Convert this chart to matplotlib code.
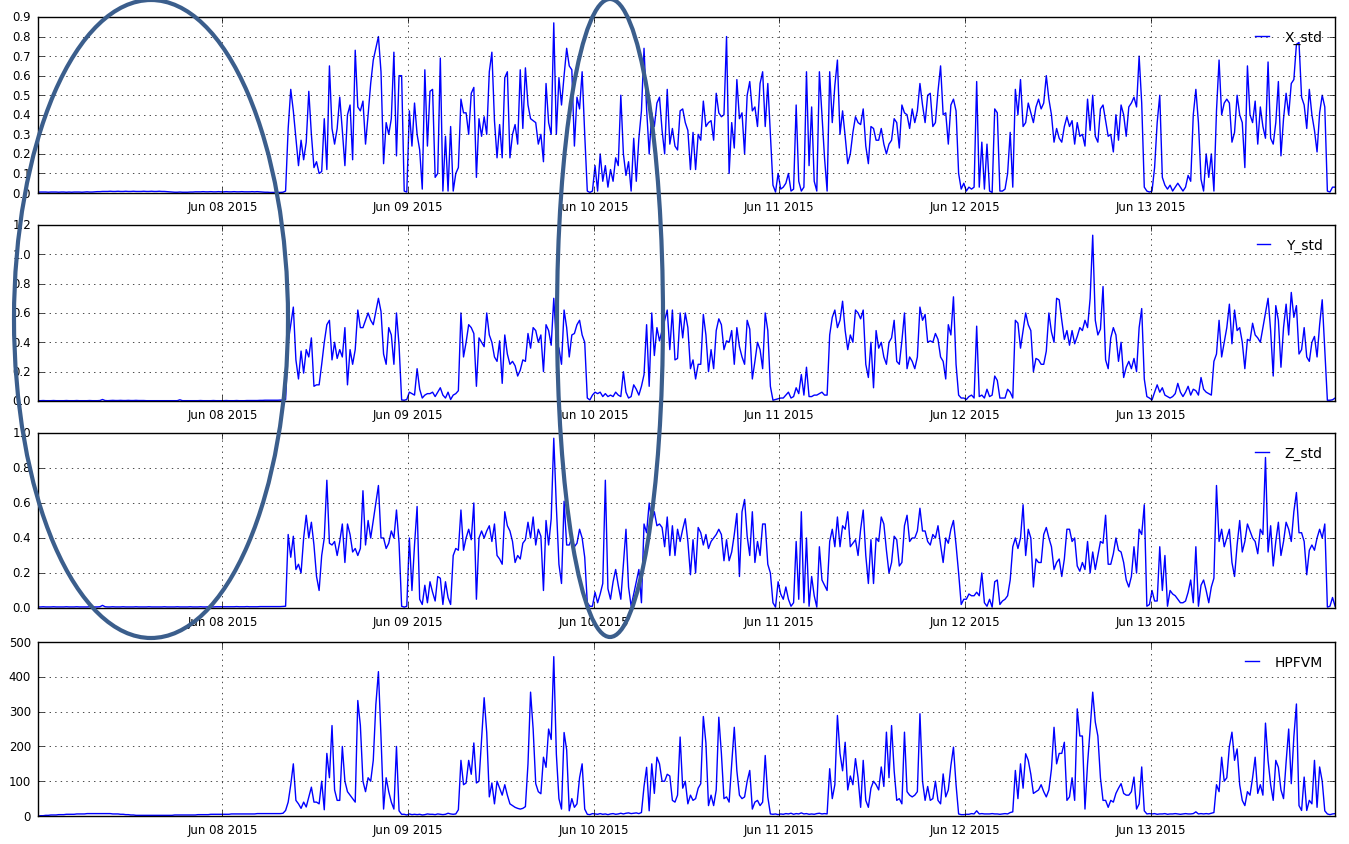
import numpy as np
import pandas as pd
import matplotlib
matplotlib.use("Agg")
import matplotlib.pyplot as plt
import matplotlib.dates as mdates
from matplotlib.patches import Ellipse

# readings every 20 minutes starting just after Jun 07 2015 00:00 (one line = 4 hours)
start = "2015-06-07 00:10"
step = "20min"

x_std = [
    0.004, 0.005, 0.005, 0.005, 0.004, 0.005, 0.005, 0.005, 0.004, 0.005, 0.005, 0.004,
    0.005, 0.004, 0.005, 0.005, 0.005, 0.004, 0.005, 0.006, 0.005, 0.005, 0.006, 0.007,
    0.007, 0.008, 0.008, 0.008, 0.009, 0.008, 0.008, 0.009, 0.008, 0.008, 0.009, 0.008,
    0.008, 0.009, 0.008, 0.008, 0.008, 0.009, 0.008, 0.008, 0.009, 0.008, 0.008, 0.009,
    0.008, 0.008, 0.007, 0.006, 0.005, 0.004, 0.004, 0.005, 0.004, 0.004, 0.004, 0.005,
    0.005, 0.006, 0.006, 0.006, 0.007, 0.006, 0.006, 0.007, 0.006, 0.006, 0.007, 0.006,
    0.006, 0.007, 0.006, 0.006, 0.007, 0.006, 0.006, 0.007, 0.006, 0.006, 0.006, 0.007,
    0.006, 0.007, 0.006, 0.005, 0.004, 0.004, 0.003, 0.003, 0.003, 0.003, 0.003, 0.004,
    0.01, 0.33, 0.53, 0.42, 0.28, 0.14, 0.27, 0.17, 0.26, 0.52, 0.30, 0.13,
    0.16, 0.10, 0.11, 0.38, 0.12, 0.65, 0.33, 0.25, 0.33, 0.49, 0.32, 0.14,
    0.40, 0.45, 0.17, 0.73, 0.44, 0.42, 0.47, 0.25, 0.40, 0.56, 0.68, 0.74,
    0.80, 0.62, 0.15, 0.36, 0.30, 0.38, 0.72, 0.19, 0.60, 0.60, 0.01, 0.005,
    0.42, 0.24, 0.46, 0.30, 0.22, 0.02, 0.63, 0.24, 0.52, 0.53, 0.08, 0.10,
    0.69, 0.01, 0.29, 0.01, 0.34, 0.01, 0.10, 0.13, 0.48, 0.41, 0.41, 0.30,
    0.51, 0.54, 0.08, 0.38, 0.29, 0.39, 0.30, 0.62, 0.72, 0.37, 0.18, 0.35,
    0.18, 0.59, 0.62, 0.18, 0.30, 0.35, 0.25, 0.63, 0.33, 0.64, 0.45, 0.38,
    0.37, 0.36, 0.25, 0.30, 0.16, 0.56, 0.36, 0.30, 0.87, 0.30, 0.59, 0.45,
    0.60, 0.74, 0.65, 0.63, 0.24, 0.49, 0.43, 0.62, 0.30, 0.01, 0.003, 0.01,
    0.14, 0.01, 0.20, 0.06, 0.14, 0.03, 0.12, 0.06, 0.18, 0.14, 0.50, 0.20,
    0.09, 0.16, 0.01, 0.28, 0.06, 0.28, 0.42, 0.74, 0.43, 0.20, 0.41, 0.34,
    0.46, 0.49, 0.32, 0.20, 0.53, 0.25, 0.33, 0.24, 0.22, 0.42, 0.43, 0.36,
    0.32, 0.12, 0.31, 0.12, 0.30, 0.27, 0.47, 0.34, 0.36, 0.37, 0.27, 0.51,
    0.41, 0.39, 0.40, 0.80, 0.10, 0.36, 0.23, 0.58, 0.38, 0.41, 0.20, 0.50,
    0.57, 0.42, 0.44, 0.34, 0.56, 0.62, 0.34, 0.56, 0.30, 0.04, 0.005, 0.10,
    0.02, 0.03, 0.05, 0.10, 0.01, 0.02, 0.45, 0.06, 0.01, 0.03, 0.62, 0.14,
    0.44, 0.06, 0.01, 0.62, 0.40, 0.18, 0.01, 0.62, 0.36, 0.55, 0.68, 0.30,
    0.42, 0.29, 0.15, 0.20, 0.31, 0.39, 0.36, 0.35, 0.43, 0.24, 0.15, 0.34,
    0.33, 0.27, 0.27, 0.33, 0.25, 0.20, 0.25, 0.27, 0.38, 0.36, 0.23, 0.45,
    0.41, 0.40, 0.33, 0.43, 0.36, 0.42, 0.56, 0.45, 0.36, 0.50, 0.51, 0.34,
    0.36, 0.52, 0.65, 0.40, 0.41, 0.25, 0.45, 0.48, 0.42, 0.10, 0.02, 0.05,
    0.01, 0.03, 0.02, 0.03, 0.57, 0.03, 0.26, 0.02, 0.25, 0.01, 0.003, 0.43,
    0.41, 0.01, 0.01, 0.02, 0.10, 0.31, 0.03, 0.53, 0.40, 0.58, 0.34, 0.36,
    0.46, 0.41, 0.36, 0.44, 0.48, 0.43, 0.46, 0.60, 0.48, 0.40, 0.26, 0.33,
    0.28, 0.26, 0.34, 0.39, 0.34, 0.37, 0.25, 0.36, 0.29, 0.30, 0.24, 0.48,
    0.32, 0.50, 0.29, 0.26, 0.43, 0.45, 0.37, 0.29, 0.30, 0.21, 0.40, 0.27,
    0.45, 0.40, 0.29, 0.44, 0.46, 0.49, 0.44, 0.70, 0.46, 0.03, 0.01, 0.005,
    0.01, 0.13, 0.36, 0.50, 0.08, 0.04, 0.02, 0.04, 0.01, 0.03, 0.05, 0.03,
    0.01, 0.03, 0.09, 0.06, 0.40, 0.53, 0.36, 0.07, 0.01, 0.20, 0.08, 0.20,
    0.01, 0.42, 0.68, 0.40, 0.46, 0.48, 0.46, 0.26, 0.31, 0.50, 0.40, 0.36,
    0.13, 0.65, 0.40, 0.36, 0.47, 0.25, 0.44, 0.34, 0.28, 0.67, 0.28, 0.25,
    0.36, 0.57, 0.19, 0.38, 0.51, 0.40, 0.56, 0.58, 0.76, 0.77, 0.49, 0.45,
    0.33, 0.53, 0.40, 0.32, 0.21, 0.41, 0.50, 0.44, 0.01, 0.005, 0.03, 0.03,
]

y_std = [
    0.002, 0.002, 0.003, 0.002, 0.002, 0.002, 0.003, 0.002, 0.002, 0.002, 0.002, 0.003,
    0.002, 0.002, 0.002, 0.003, 0.002, 0.002, 0.002, 0.002, 0.003, 0.002, 0.002, 0.002,
    0.003, 0.010, 0.003, 0.002, 0.003, 0.004, 0.003, 0.003, 0.004, 0.003, 0.003, 0.004,
    0.003, 0.003, 0.004, 0.003, 0.003, 0.003, 0.002, 0.002, 0.002, 0.002, 0.002, 0.002,
    0.002, 0.002, 0.002, 0.002, 0.002, 0.002, 0.002, 0.008, 0.002, 0.002, 0.002, 0.002,
    0.002, 0.002, 0.002, 0.003, 0.002, 0.002, 0.002, 0.002, 0.003, 0.002, 0.002, 0.002,
    0.002, 0.003, 0.002, 0.002, 0.002, 0.003, 0.002, 0.002, 0.002, 0.003, 0.003, 0.003,
    0.003, 0.003, 0.004, 0.004, 0.005, 0.005, 0.005, 0.005, 0.005, 0.005, 0.006, 0.005,
    0.01, 0.40, 0.52, 0.64, 0.28, 0.15, 0.34, 0.19, 0.35, 0.30, 0.43, 0.10,
    0.11, 0.11, 0.25, 0.40, 0.52, 0.55, 0.28, 0.40, 0.29, 0.35, 0.30, 0.50,
    0.11, 0.35, 0.25, 0.35, 0.62, 0.50, 0.50, 0.55, 0.60, 0.55, 0.52, 0.61,
    0.70, 0.61, 0.32, 0.25, 0.50, 0.45, 0.25, 0.60, 0.38, 0.007, 0.005, 0.01,
    0.06, 0.05, 0.04, 0.22, 0.08, 0.02, 0.04, 0.05, 0.05, 0.06, 0.03, 0.06,
    0.09, 0.04, 0.02, 0.06, 0.01, 0.04, 0.05, 0.07, 0.60, 0.30, 0.40, 0.52,
    0.50, 0.46, 0.10, 0.43, 0.40, 0.37, 0.60, 0.45, 0.40, 0.30, 0.27, 0.41,
    0.12, 0.45, 0.32, 0.25, 0.27, 0.24, 0.17, 0.21, 0.28, 0.27, 0.46, 0.36,
    0.50, 0.48, 0.40, 0.45, 0.20, 0.52, 0.48, 0.38, 0.70, 0.40, 0.36, 0.25,
    0.62, 0.50, 0.30, 0.45, 0.46, 0.52, 0.55, 0.45, 0.40, 0.02, 0.007, 0.04,
    0.06, 0.05, 0.06, 0.03, 0.05, 0.03, 0.04, 0.03, 0.06, 0.04, 0.03, 0.20,
    0.06, 0.02, 0.03, 0.11, 0.08, 0.04, 0.10, 0.18, 0.52, 0.10, 0.60, 0.31,
    0.50, 0.41, 0.48, 0.55, 0.62, 0.35, 0.62, 0.28, 0.29, 0.60, 0.43, 0.60,
    0.50, 0.22, 0.28, 0.15, 0.25, 0.25, 0.59, 0.45, 0.20, 0.35, 0.22, 0.48,
    0.56, 0.52, 0.35, 0.41, 0.40, 0.48, 0.25, 0.50, 0.37, 0.30, 0.25, 0.55,
    0.49, 0.15, 0.27, 0.40, 0.35, 0.22, 0.60, 0.48, 0.10, 0.005, 0.01, 0.015,
    0.02, 0.02, 0.04, 0.06, 0.02, 0.03, 0.09, 0.05, 0.18, 0.04, 0.23, 0.03,
    0.03, 0.04, 0.04, 0.05, 0.06, 0.04, 0.04, 0.45, 0.57, 0.62, 0.50, 0.55,
    0.68, 0.48, 0.35, 0.45, 0.40, 0.62, 0.60, 0.56, 0.62, 0.25, 0.16, 0.40,
    0.09, 0.48, 0.36, 0.40, 0.30, 0.25, 0.40, 0.43, 0.55, 0.27, 0.25, 0.41,
    0.60, 0.22, 0.30, 0.27, 0.22, 0.30, 0.64, 0.55, 0.59, 0.40, 0.41, 0.40,
    0.46, 0.42, 0.30, 0.27, 0.15, 0.52, 0.45, 0.71, 0.25, 0.04, 0.02, 0.02,
    0.01, 0.03, 0.04, 0.02, 0.51, 0.03, 0.04, 0.02, 0.08, 0.03, 0.04, 0.17,
    0.14, 0.02, 0.02, 0.02, 0.08, 0.06, 0.02, 0.55, 0.53, 0.36, 0.48, 0.60,
    0.52, 0.48, 0.20, 0.29, 0.28, 0.25, 0.25, 0.34, 0.60, 0.47, 0.40, 0.70,
    0.69, 0.55, 0.42, 0.48, 0.38, 0.48, 0.39, 0.44, 0.50, 0.48, 0.55, 0.50,
    0.70, 1.13, 0.55, 0.45, 0.49, 0.78, 0.28, 0.22, 0.43, 0.50, 0.45, 0.27,
    0.40, 0.16, 0.23, 0.27, 0.22, 0.29, 0.20, 0.50, 0.63, 0.15, 0.03, 0.02,
    0.007, 0.06, 0.11, 0.06, 0.09, 0.04, 0.03, 0.02, 0.03, 0.05, 0.12, 0.06,
    0.03, 0.06, 0.10, 0.04, 0.08, 0.07, 0.04, 0.16, 0.08, 0.06, 0.05, 0.04,
    0.27, 0.32, 0.55, 0.30, 0.40, 0.50, 0.66, 0.39, 0.62, 0.48, 0.50, 0.40,
    0.22, 0.42, 0.41, 0.53, 0.45, 0.43, 0.40, 0.50, 0.60, 0.70, 0.48, 0.17,
    0.65, 0.55, 0.23, 0.50, 0.66, 0.45, 0.74, 0.57, 0.65, 0.32, 0.35, 0.50,
    0.30, 0.27, 0.40, 0.44, 0.30, 0.52, 0.69, 0.35, 0.005, 0.005, 0.008, 0.02,
]

z_std = [
    0.006, 0.006, 0.007, 0.006, 0.006, 0.006, 0.007, 0.006, 0.006, 0.006, 0.006, 0.007,
    0.006, 0.006, 0.006, 0.007, 0.006, 0.006, 0.006, 0.006, 0.007, 0.006, 0.006, 0.006,
    0.007, 0.015, 0.007, 0.006, 0.006, 0.007, 0.006, 0.006, 0.006, 0.007, 0.006, 0.006,
    0.006, 0.006, 0.007, 0.006, 0.006, 0.006, 0.006, 0.007, 0.006, 0.006, 0.006, 0.006,
    0.006, 0.007, 0.006, 0.006, 0.006, 0.006, 0.007, 0.006, 0.006, 0.006, 0.006, 0.007,
    0.006, 0.006, 0.006, 0.007, 0.006, 0.006, 0.007, 0.007, 0.006, 0.007, 0.007, 0.007,
    0.007, 0.007, 0.007, 0.007, 0.007, 0.008, 0.007, 0.007, 0.007, 0.008, 0.007, 0.007,
    0.007, 0.007, 0.008, 0.008, 0.008, 0.008, 0.008, 0.008, 0.008, 0.008, 0.008, 0.009,
    0.01, 0.42, 0.29, 0.41, 0.22, 0.25, 0.20, 0.40, 0.53, 0.40, 0.49, 0.36,
    0.18, 0.10, 0.30, 0.40, 0.73, 0.37, 0.36, 0.38, 0.30, 0.38, 0.48, 0.26,
    0.48, 0.42, 0.32, 0.34, 0.30, 0.34, 0.67, 0.36, 0.50, 0.40, 0.50, 0.60,
    0.70, 0.40, 0.40, 0.34, 0.37, 0.44, 0.40, 0.56, 0.37, 0.01, 0.005, 0.01,
    0.40, 0.10, 0.36, 0.58, 0.05, 0.02, 0.13, 0.03, 0.15, 0.09, 0.04, 0.18,
    0.17, 0.02, 0.15, 0.06, 0.02, 0.30, 0.34, 0.33, 0.56, 0.33, 0.40, 0.45,
    0.39, 0.60, 0.05, 0.40, 0.44, 0.40, 0.44, 0.47, 0.38, 0.48, 0.30, 0.28,
    0.25, 0.55, 0.47, 0.44, 0.38, 0.26, 0.30, 0.28, 0.37, 0.39, 0.49, 0.40,
    0.52, 0.36, 0.45, 0.41, 0.10, 0.50, 0.36, 0.51, 0.97, 0.58, 0.25, 0.14,
    0.61, 0.36, 0.36, 0.40, 0.35, 0.37, 0.45, 0.40, 0.29, 0.03, 0.01, 0.01,
    0.09, 0.03, 0.08, 0.14, 0.73, 0.11, 0.05, 0.15, 0.22, 0.13, 0.05, 0.25,
    0.45, 0.12, 0.01, 0.08, 0.15, 0.22, 0.03, 0.48, 0.43, 0.60, 0.50, 0.55,
    0.47, 0.48, 0.46, 0.35, 0.52, 0.30, 0.47, 0.30, 0.45, 0.38, 0.45, 0.51,
    0.38, 0.19, 0.39, 0.20, 0.46, 0.43, 0.36, 0.42, 0.34, 0.38, 0.40, 0.42,
    0.45, 0.42, 0.27, 0.39, 0.27, 0.32, 0.42, 0.54, 0.18, 0.55, 0.62, 0.41,
    0.30, 0.55, 0.26, 0.38, 0.30, 0.48, 0.48, 0.25, 0.20, 0.03, 0.005, 0.15,
    0.08, 0.05, 0.12, 0.05, 0.01, 0.03, 0.38, 0.05, 0.55, 0.03, 0.40, 0.01,
    0.18, 0.07, 0.005, 0.35, 0.16, 0.13, 0.10, 0.38, 0.45, 0.35, 0.52, 0.35,
    0.47, 0.45, 0.55, 0.35, 0.37, 0.39, 0.30, 0.45, 0.56, 0.30, 0.14, 0.39,
    0.14, 0.40, 0.38, 0.52, 0.48, 0.33, 0.20, 0.26, 0.41, 0.39, 0.24, 0.26,
    0.47, 0.53, 0.38, 0.40, 0.40, 0.44, 0.57, 0.44, 0.44, 0.38, 0.36, 0.42,
    0.40, 0.47, 0.36, 0.26, 0.40, 0.37, 0.45, 0.50, 0.36, 0.20, 0.02, 0.05,
    0.05, 0.08, 0.07, 0.07, 0.09, 0.07, 0.20, 0.03, 0.01, 0.05, 0.005, 0.15,
    0.16, 0.02, 0.04, 0.05, 0.07, 0.16, 0.35, 0.40, 0.34, 0.40, 0.59, 0.30,
    0.45, 0.40, 0.12, 0.28, 0.26, 0.26, 0.42, 0.46, 0.40, 0.35, 0.22, 0.26,
    0.28, 0.18, 0.28, 0.45, 0.45, 0.38, 0.40, 0.24, 0.21, 0.26, 0.22, 0.38,
    0.20, 0.32, 0.22, 0.30, 0.38, 0.37, 0.53, 0.25, 0.25, 0.31, 0.40, 0.33,
    0.32, 0.26, 0.16, 0.12, 0.18, 0.35, 0.20, 0.45, 0.42, 0.59, 0.01, 0.02,
    0.10, 0.04, 0.04, 0.35, 0.10, 0.30, 0.01, 0.10, 0.08, 0.07, 0.05, 0.03,
    0.03, 0.04, 0.09, 0.16, 0.03, 0.35, 0.01, 0.13, 0.16, 0.10, 0.03, 0.12,
    0.17, 0.70, 0.38, 0.45, 0.35, 0.40, 0.45, 0.26, 0.18, 0.36, 0.50, 0.32,
    0.38, 0.48, 0.44, 0.40, 0.38, 0.31, 0.45, 0.42, 0.86, 0.32, 0.47, 0.24,
    0.38, 0.49, 0.30, 0.38, 0.49, 0.45, 0.38, 0.55, 0.66, 0.43, 0.43, 0.38,
    0.19, 0.33, 0.36, 0.33, 0.40, 0.45, 0.40, 0.48, 0.005, 0.01, 0.06, 0.01,
]

hpfvm = [
    0, 1, 1, 2, 2, 3, 3, 3, 4, 4, 4, 5,
    5, 5, 5, 6, 6, 6, 6, 7, 7, 7, 7, 7,
    7, 7, 7, 7, 7, 6, 6, 6, 5, 5, 4, 4,
    3, 3, 2, 2, 2, 2, 2, 2, 2, 2, 2, 2,
    2, 2, 2, 2, 2, 3, 3, 3, 3, 3, 3, 3,
    3, 3, 4, 4, 4, 4, 4, 5, 5, 5, 5, 5,
    5, 5, 5, 6, 6, 6, 6, 6, 6, 6, 6, 6,
    6, 7, 7, 7, 7, 7, 7, 7, 7, 7, 7, 8,
    16, 40, 90, 150, 45, 35, 22, 40, 26, 55, 83, 40,
    40, 35, 100, 18, 180, 110, 260, 75, 45, 45, 200, 100,
    70, 60, 50, 40, 332, 260, 100, 70, 110, 100, 160, 320,
    415, 227, 20, 110, 70, 40, 20, 200, 15, 5, 5, 3,
    6, 4, 5, 4, 5, 3, 4, 6, 5, 5, 4, 6,
    5, 4, 5, 8, 6, 5, 6, 18, 160, 90, 95, 160,
    120, 210, 95, 100, 220, 340, 240, 55, 95, 35, 100, 80,
    60, 90, 60, 35, 30, 25, 22, 20, 22, 27, 150, 356,
    250, 93, 70, 64, 169, 140, 250, 220, 458, 178, 50, 20,
    240, 190, 15, 50, 25, 35, 110, 150, 20, 5, 4, 7,
    6, 5, 7, 5, 6, 4, 6, 7, 5, 6, 8, 6,
    8, 9, 7, 8, 9, 7, 10, 85, 140, 15, 150, 65,
    169, 150, 100, 100, 120, 115, 45, 40, 60, 227, 80, 100,
    35, 60, 45, 50, 80, 93, 286, 210, 30, 60, 30, 75,
    284, 180, 50, 55, 40, 150, 255, 130, 60, 50, 55, 100,
    131, 20, 40, 45, 30, 40, 174, 55, 6, 5, 6, 4,
    6, 5, 7, 6, 8, 5, 7, 6, 9, 6, 7, 5,
    6, 5, 7, 8, 6, 7, 6, 136, 50, 90, 289, 180,
    130, 212, 75, 115, 90, 165, 110, 25, 160, 45, 25, 80,
    100, 90, 75, 141, 85, 241, 110, 260, 130, 45, 50, 35,
    241, 70, 60, 55, 60, 70, 294, 100, 45, 85, 45, 50,
    100, 45, 35, 121, 55, 75, 145, 198, 90, 6, 4, 4,
    5, 5, 7, 6, 15, 6, 7, 6, 6, 6, 7, 6,
    6, 5, 6, 7, 6, 10, 12, 131, 50, 150, 80, 179,
    160, 120, 65, 70, 75, 90, 70, 55, 75, 135, 255, 150,
    180, 180, 212, 45, 55, 110, 45, 308, 230, 230, 20, 150,
    250, 356, 270, 230, 110, 45, 45, 25, 45, 40, 65, 80,
    93, 65, 60, 60, 70, 112, 20, 35, 141, 15, 6, 7,
    6, 7, 5, 6, 6, 7, 5, 6, 6, 7, 6, 5,
    6, 7, 6, 6, 7, 12, 6, 7, 6, 7, 6, 8,
    10, 90, 70, 169, 100, 110, 200, 241, 160, 193, 90, 45,
    30, 70, 60, 110, 169, 65, 90, 60, 267, 160, 90, 45,
    160, 140, 75, 50, 155, 250, 93, 227, 322, 30, 16, 112,
    16, 45, 35, 160, 25, 141, 100, 15, 6, 4, 6, 7,
]

names = ["X_std", "Y_std", "Z_std", "HPFVM"]
tops = [0.9, 1.2, 1.0, 500]
tick_steps = [0.1, 0.2, 0.2, 100]

plt.style.use("classic")
fig = plt.figure(figsize=(13.49, 8.45), dpi=100, facecolor="white")

# axes boxes in figure fractions (left, bottom, width, height)
boxes = [
    [0.0282, 0.7704, 0.9615, 0.2083],
    [0.0282, 0.5243, 0.9615, 0.2083],
    [0.0282, 0.2793, 0.9615, 0.2071],
    [0.0282, 0.0331, 0.9615, 0.2059],
]

for name, vals, top, st, box in zip(names, [x_std, y_std, z_std, hpfvm], tops, tick_steps, boxes):
    times = pd.date_range(start, periods=len(vals), freq=step)
    ax = fig.add_axes(box)
    ax.plot(times, vals, color="b", lw=1.0, label=name)
    ax.set_xlim(times[0], times[-1])
    ax.set_ylim(0, top)
    ax.set_yticks(np.arange(0, top + st / 2, st))
    ax.xaxis.set_major_locator(mdates.DayLocator())
    ax.xaxis.set_major_formatter(mdates.DateFormatter("%b %d %Y"))
    ax.grid(True)
    ax.tick_params(labelsize=8.5, pad=5)
    ax.legend(loc="upper right", frameon=False, fontsize=10, handlelength=1.6)

# hand-drawn highlight ellipses on top of everything (pixel coordinates)
over = fig.add_axes([0, 0, 1, 1])
over.set_xlim(0, 1349)
over.set_ylim(845, 0)
over.axis("off")
over.patch.set_alpha(0)
over.add_patch(Ellipse((151, 320), 274, 638, fill=False, ec="#3b5e8c", lw=3))
over.add_patch(Ellipse((610, 319), 106, 638, fill=False, ec="#3b5e8c", lw=3))

fig.savefig("out.png", dpi=100, facecolor="white")
